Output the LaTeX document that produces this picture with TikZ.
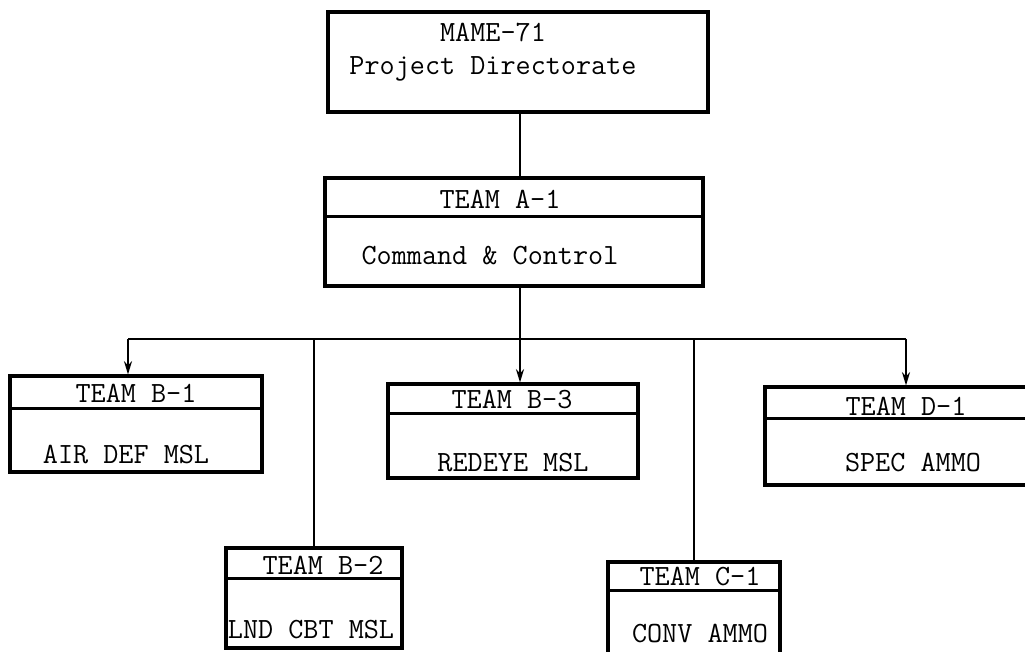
\documentclass[tikz,border=0pt]{standalone}
\usetikzlibrary{calc, positioning, arrows.meta}

\begin{document}
\begin{tikzpicture}[
  x=0.75pt, y=-0.75pt,
  font=\ttfamily\fontsize{22}{25}\selectfont,
  box/.style={draw, line width=2.3pt, inner sep=0pt},
  txt/.style={inner sep=0pt, align=center},
  conn/.style={line width=1.7pt},
  arr/.style={-{Stealth[length=10pt, width=6pt]}, line width=1.7pt}
]
  \useasboundingbox (0,0) rectangle (1025,652);

  % directorate and team A
  \node[box, minimum width=285pt, minimum height=75pt] (mame) at (518,62) {};
  \node[txt] (mametxt) at (493,52) {MAME-71\\Project Directorate};

  \node[box, minimum width=283.5pt, minimum height=81pt] (a1) at (514,232) {};
  \draw[box] ([yshift=-30pt]a1.north west) -- ([yshift=-30pt]a1.north east);
  \node[txt] (a1head) at (500,199) {TEAM A-1};
  \node[txt] (a1body) at (490,256) {Command \& Control};

  % teams B, C, D
  \node[box, minimum width=189pt, minimum height=72pt] (b1) at (136,424) {};
  \draw[box] ([yshift=-25.5pt]b1.north west) -- ([yshift=-25.5pt]b1.north east);
  \node[txt] (b1head) at (136,393) {TEAM B-1};
  \node[txt] (b1body) at (126,455) {AIR DEF MSL};

  \node[box, minimum width=187.5pt, minimum height=70.5pt] (b3) at (513,431) {};
  \draw[box] ([yshift=-23pt]b3.north west) -- ([yshift=-23pt]b3.north east);
  \node[txt] (b3head) at (512,400) {TEAM B-3};
  \node[txt] (b3body) at (513,463) {REDEYE MSL};

  \node[box, minimum width=206.25pt, minimum height=73.5pt] (d1) at (902.5,436) {};
  \draw[box] ([yshift=-25pt]d1.north west) -- ([yshift=-25pt]d1.north east);
  \node[txt] (d1head) at (906,406) {TEAM D-1};
  \node[txt] (d1body) at (913,463) {SPEC AMMO};

  \node[box, minimum width=132pt, minimum height=75pt] (b2) at (314,598) {};
  \draw[box] ([yshift=-24pt]b2.north west) -- ([yshift=-24pt]b2.north east);
  \node[txt] (b2head) at (323,565) {TEAM B-2};
  \node[txt] (b2body) at (311,630) {LND CBT MSL};

  \node[box, minimum width=129pt, minimum height=81pt] (c1) at (694,616) {};
  \draw[box] ([yshift=-22.5pt]c1.north west) -- ([yshift=-22.5pt]c1.north east);
  \node[txt] (c1head) at (700,577) {TEAM C-1};
  \node[txt] (c1body) at (700,634) {CONV AMMO};

  % connectors
  \coordinate (bus) at (520,339);
  \coordinate (busL) at (128,339);
  \coordinate (busR) at (906,339);

  \draw[conn] (mame.south -| bus) -- (a1.north -| bus);
  \draw[conn] (a1.south -| bus) -- (bus);
  \draw[conn] (busL) -- (busR);
  \draw[arr] (busL) -- (busL |- b1.north);
  \draw[arr] (bus) -- (bus |- b3.north);
  \draw[arr] (busR) -- (busR |- d1.north);
  \draw[conn] (b2.north |- bus) -- (b2.north);
  \draw[conn] (c1.north |- bus) -- (c1.north);
\end{tikzpicture}
\end{document}
